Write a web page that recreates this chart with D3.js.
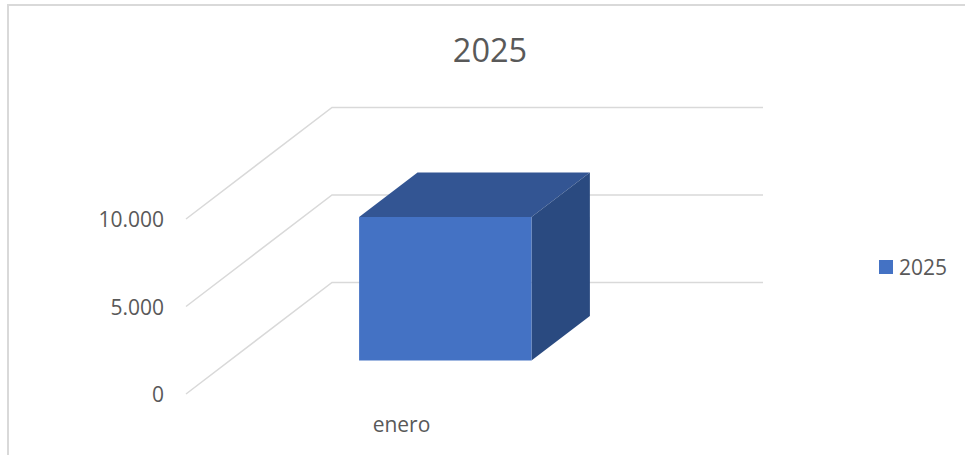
<!DOCTYPE html>
<html>
<head>
<meta charset="utf-8">
<script src="https://cdn.jsdelivr.net/npm/d3@7"></script>
<style>
  html, body { margin: 0; padding: 0; background: #fff; overflow: hidden; }
  text { font-family: "Open Sans", sans-serif; fill: #595959; }
  .grid { fill: none; stroke: #d9d9d9; stroke-width: 1.5; }
</style>
</head>
<body>
<svg id="chart" width="965" height="455"></svg>
<script>
const categories = ["enero"];
const seriesName = "2025";
const values = [8200];
const yTicks = [0, 5000, 10000];

const width = 965;
const height = 455;

// front plane of the floor, and how far the depth axis shifts things
const plot = { left: 186, right: 617, bottom: 394, top: 219 };
const depth = { dx: 146, dy: -111.5 };

const svg = d3.select("#chart");

const x = d3.scaleBand()
    .domain(categories)
    .range([plot.left, plot.right])
    .paddingInner(0)
    .paddingOuter(0.75);

const y = d3.scaleLinear()
    .domain([0, 10000])
    .range([plot.bottom, plot.top]);

// the single series sits in the middle of the depth axis
const z = d3.scaleBand()
    .domain([seriesName])
    .range([0, 1])
    .paddingInner(0)
    .paddingOuter(0.75);

const es = d3.formatLocale({ decimal: ",", thousands: ".", grouping: [3], currency: ["", "€"] });

function project(px, value, d) {
    return [px + d * depth.dx, y(value) + d * depth.dy];
}

const line = d3.line();

// frame of the chart area, cut off by the picture on the right and bottom
svg.append("path")
    .attr("d", "M8,455V5H965")
    .attr("fill", "none")
    .attr("stroke", "#d9d9d9")
    .attr("stroke-width", 2);

// title
svg.append("text")
    .attr("x", 490)
    .attr("y", 62)
    .attr("text-anchor", "middle")
    .style("font-size", "32.5px")
    .text(seriesName);

// gridlines, running along the side wall then the back wall
svg.selectAll(".grid")
    .data(yTicks)
    .enter()
    .append("path")
    .attr("class", "grid")
    .attr("d", d => line([
        project(plot.left, d, 0),
        project(plot.left, d, 1),
        project(plot.right, d, 1)
    ]));

// y axis labels
const yAxis = d3.axisLeft(y)
    .tickValues(yTicks)
    .tickSize(0)
    .tickPadding(0)
    .tickFormat(es.format(",d"));

svg.append("g")
    .attr("transform", "translate(164, 0.5)")
    .call(yAxis)
    .call(g => g.select(".domain").remove())
    .call(g => g.selectAll("text").style("font-size", "21px").attr("dy", "0.35em"));

// the box
const bars = svg.selectAll(".bar")
    .data(categories.map((c, i) => ({ category: c, value: values[i] })))
    .enter()
    .append("g")
    .attr("class", "bar");

const x0 = d => x(d.category);
const x1 = d => x(d.category) + x.bandwidth();
const z0 = z(seriesName);
const z1 = z(seriesName) + z.bandwidth();

bars.append("path")
    .attr("fill", "#335593")
    .attr("d", d => line([
        project(x0(d), d.value, z0),
        project(x0(d), d.value, z1),
        project(x1(d), d.value, z1),
        project(x1(d), d.value, z0)
    ]) + "Z");

bars.append("path")
    .attr("fill", "#2a4a80")
    .attr("d", d => line([
        project(x1(d), d.value, z0),
        project(x1(d), d.value, z1),
        project(x1(d), 0, z1),
        project(x1(d), 0, z0)
    ]) + "Z");

bars.append("path")
    .attr("fill", "#4472c4")
    .attr("d", d => line([
        project(x0(d), d.value, z0),
        project(x1(d), d.value, z0),
        project(x1(d), 0, z0),
        project(x0(d), 0, z0)
    ]) + "Z");

// category label
svg.selectAll(".cat")
    .data(categories)
    .enter()
    .append("text")
    .attr("class", "cat")
    .attr("x", d => x(d) + x.bandwidth() / 2)
    .attr("y", 432)
    .attr("text-anchor", "middle")
    .style("font-size", "21px")
    .text(d => d);

// legend
svg.append("rect")
    .attr("x", 879)
    .attr("y", 260)
    .attr("width", 14)
    .attr("height", 14)
    .attr("fill", "#4472c4");

svg.append("text")
    .attr("x", 899)
    .attr("y", 275)
    .style("font-size", "21px")
    .text(seriesName);
</script>
</body>
</html>
